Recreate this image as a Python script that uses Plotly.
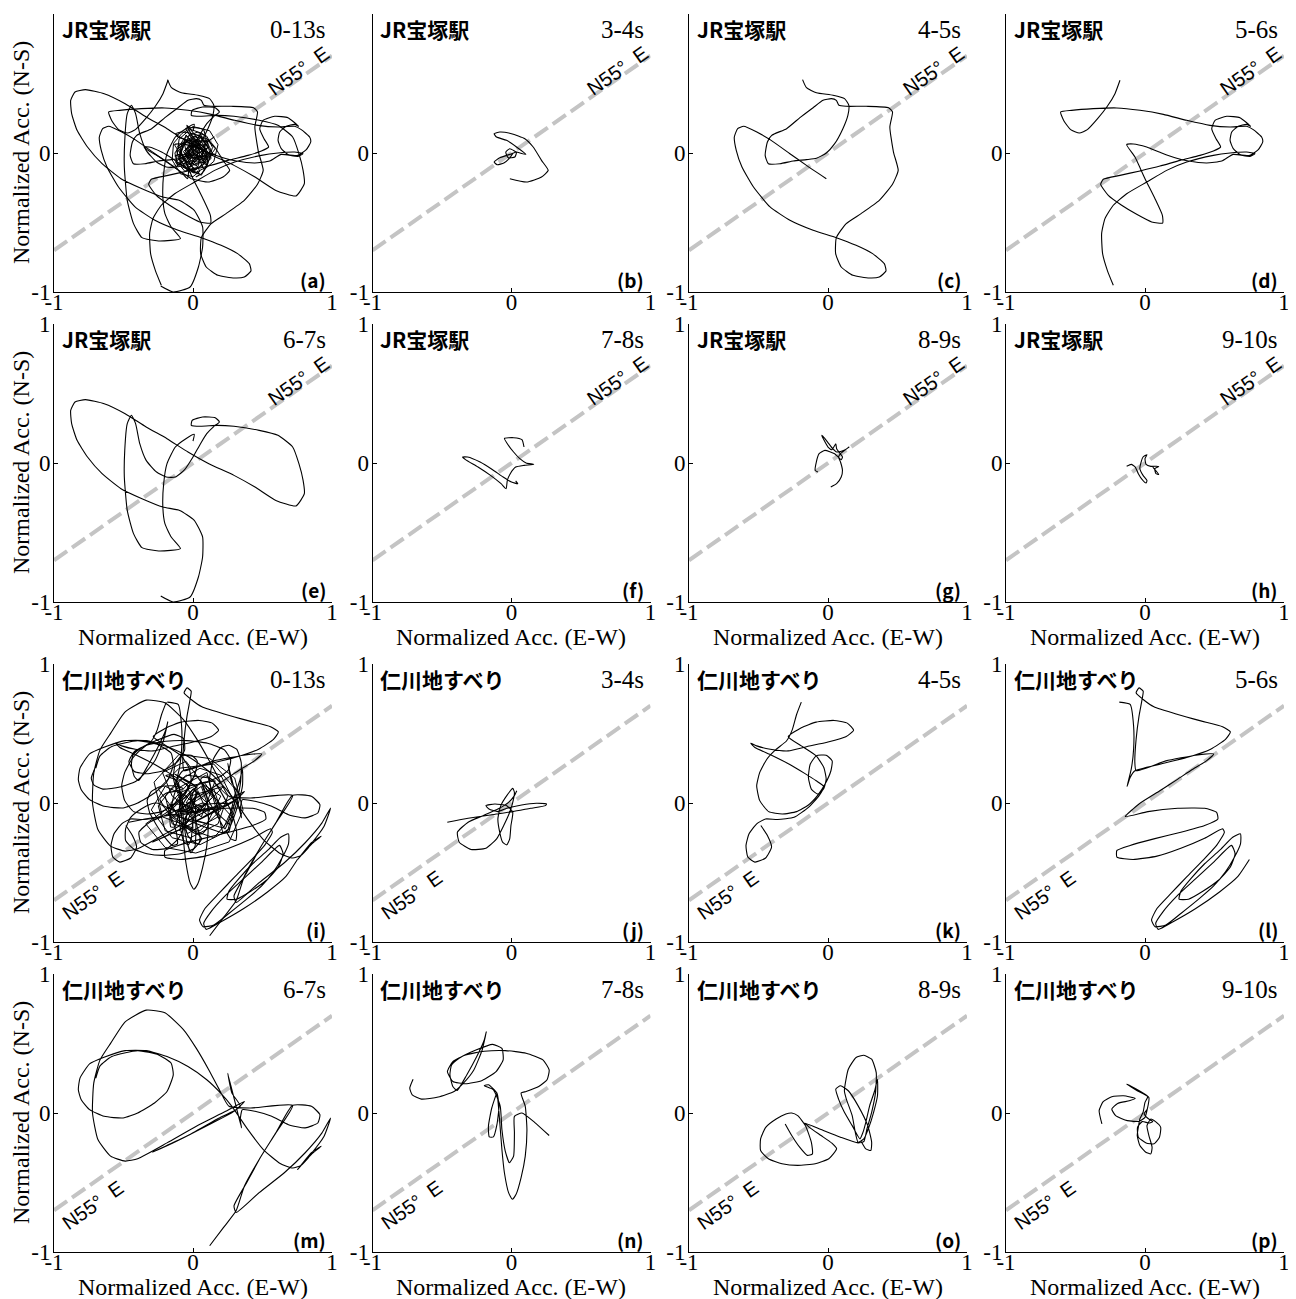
import plotly.graph_objects as go

W, H = 1296, 1299
OFF = 8  # page body margin of the browser

# ---------------- data (normalized acceleration, E-W = x, N-S = y) ----------------
time_labels_top = ["0-13s", "3-4s", "4-5s", "5-6s", "6-7s", "7-8s", "8-9s", "9-10s"]
panel_labels = ["(a)", "(b)", "(c)", "(d)", "(e)", "(f)", "(g)", "(h)",
                "(i)", "(j)", "(k)", "(l)", "(m)", "(n)", "(o)", "(p)"]
station_top = "JR宝塚駅"
station_bottom = "仁川地すべり"
tick_vals = [-1, 0, 1]
tick_text = ["-1", "0", "1"]
azimuth_x = [-1, 1]
azimuth_y = [-0.7, 0.7]

# JR Takarazuka station, small-amplitude part of 0-13 s record (0-3 s, 10-13 s)
a_extra_xy = [(0.0, 0.0), (0.08, 0.05), (0.1, -0.03), (0.02, -0.09), (-0.07, -0.05), (-0.09, 0.04),
              (-0.02, 0.1), (0.06, 0.08), (0.11, 0.0), (0.05, -0.1), (-0.04, -0.12), (-0.1, -0.04),
              (-0.08, 0.07), (0.0, 0.12), (0.09, 0.1), (0.13, 0.02), (0.08, -0.07), (-0.01, -0.06),
              (-0.06, 0.0), (-0.03, 0.06), (0.04, 0.04), (0.05, -0.04), (-0.03, -0.08), (-0.11, -0.1),
              (-0.13, 0.0), (-0.06, 0.11), (0.03, 0.15), (0.1, 0.12), (0.14, 0.04), (0.1, -0.1),
              (0.02, -0.14), (-0.08, -0.1), (-0.12, 0.02), (-0.05, 0.08), (0.02, 0.06), (0.07, -0.02),
              (0.0, -0.04), (-0.04, 0.02), (0.01, 0.09), (0.08, 0.02), (0.03, -0.11), (-0.06, -0.13),
              (-0.12, -0.06), (-0.1, 0.1), (-0.02, 0.17), (0.07, 0.14), (0.12, 0.08), (0.16, 0.03),
              (0.1, -0.05), (0.0, 0.0), (0.05, 0.07), (-0.04, 0.04), (-0.02, -0.03), (0.06, -0.05),
              (0.09, 0.06), (0.0, 0.05), (-0.07, -0.02), (-0.03, -0.1), (0.04, -0.07), (0.03, 0.02),
              (-0.05, 0.13), (-0.09, -0.01), (0.01, -0.02), (0.11, 0.04), (0.06, 0.12), (-0.01, 0.03),
              (-0.1, -0.07), (-0.02, -0.14), (0.07, -0.09), (0.12, -0.01), (0.04, 0.08), (-0.06, 0.06),
              (-0.04, -0.04), (0.02, 0.0), (0.08, -0.12), (0.15, -0.06), (0.18, 0.06), (0.12, 0.16),
              (0.0, 0.19), (-0.08, 0.14), (-0.14, 0.07), (-0.15, -0.05), (-0.09, -0.15), (0.0, -0.17),
              (0.05, -0.13), (0.0, -0.05), (-0.05, 0.03), (0.03, 0.1), (0.07, 0.0), (0.0, -0.08),
              (-0.07, 0.01), (0.0, 0.07), (0.05, 0.01), (0.01, -0.03), (-0.03, 0.08), (0.1, 0.09),
              (0.13, -0.04), (0.02, -0.12), (-0.1, -0.02), (-0.02, 0.14), (0.09, -0.02), (-0.05, -0.07),
              (-0.11, 0.05), (0.04, 0.13), (0.14, 0.0), (0.06, -0.16), (-0.07, -0.09), (0.01, 0.04)]

b_xy = [(-0.012, -0.185), (0.108, -0.209), (0.216, -0.173), (0.264, -0.125), (0.216, -0.053),
        (0.156, 0.043), (0.096, 0.103), (0.0, 0.139), (-0.084, 0.151), (-0.125, 0.139),
        (-0.108, 0.115), (-0.036, 0.091), (0.036, 0.043), (0.103, -0.010), (0.036, 0.007),
        (-0.012, 0.031), (-0.041, 0.007), (-0.024, -0.034), (0.024, -0.029), (0.036, 0.007),
        (-0.012, -0.010), (-0.084, -0.034), (-0.125, -0.065), (-0.103, -0.084), (-0.055, -0.072),
        (-0.017, -0.041), (0.012, 0.0)]

c_xy = [(-0.183, 0.528), (-0.155, 0.470), (-0.083, 0.434), (0.036, 0.415), (0.119, 0.391),
        (0.150, 0.343), (0.143, 0.271), (0.107, 0.175), (0.048, 0.067), (-0.012, 0.0),
        (-0.083, -0.038), (-0.155, -0.048), (-0.250, -0.058), (-0.345, -0.077), (-0.429, -0.077),
        (-0.452, -0.017), (-0.436, 0.079), (-0.405, 0.127), (-0.298, 0.175), (-0.202, 0.254),
        (-0.107, 0.326), (-0.036, 0.379), (0.024, 0.391), (0.060, 0.379), (0.079, 0.343),
        (0.131, 0.336), (0.274, 0.336), (0.436, 0.326), (0.464, 0.295), (0.445, 0.187),
        (0.471, 0.007), (0.505, -0.125), (0.464, -0.225), (0.369, -0.341), (0.238, -0.436),
        (0.131, -0.508), (0.060, -0.609), (0.055, -0.724), (0.095, -0.820), (0.179, -0.880),
        (0.298, -0.899), (0.369, -0.892), (0.417, -0.849), (0.405, -0.796), (0.321, -0.724),
        (0.202, -0.664), (0.060, -0.609), (-0.107, -0.556), (-0.274, -0.484), (-0.417, -0.388),
        (-0.536, -0.245), (-0.619, -0.101), (-0.660, 0.019), (-0.674, 0.115), (-0.650, 0.175),
        (-0.607, 0.192), (-0.512, 0.151), (-0.417, 0.096), (-0.274, -0.005), (-0.155, -0.089),
        (-0.012, -0.185)]

d_xy = [(-0.180, 0.523), (-0.216, 0.427), (-0.271, 0.336), (-0.341, 0.247), (-0.415, 0.168),
        (-0.472, 0.144), (-0.535, 0.168), (-0.583, 0.230), (-0.607, 0.295), (-0.528, 0.307),
        (-0.372, 0.319), (-0.204, 0.324), (-0.036, 0.307), (0.132, 0.278), (0.300, 0.235),
        (0.468, 0.199), (0.612, 0.187), (0.731, 0.192), (0.779, 0.168), (0.839, 0.115),
        (0.847, 0.079), (0.815, 0.024), (0.755, -0.017), (0.683, -0.010), (0.635, 0.031),
        (0.612, 0.091), (0.624, 0.151), (0.671, 0.192), (0.731, 0.206), (0.760, 0.192),
        (0.683, 0.254), (0.588, 0.264), (0.504, 0.235), (0.480, 0.175), (0.511, 0.103),
        (0.544, 0.043), (0.492, 0.014), (0.396, -0.017), (0.252, -0.053), (0.108, -0.094),
        (-0.036, -0.129), (-0.180, -0.161), (-0.300, -0.189), (-0.319, -0.225), (-0.264, -0.305),
        (-0.168, -0.376), (-0.060, -0.441), (0.048, -0.496), (0.127, -0.504), (0.125, -0.448),
        (0.072, -0.329), (0.0, -0.185), (-0.072, -0.029), (-0.132, 0.060), (-0.084, 0.065),
        (0.012, 0.043), (0.120, 0.0), (0.216, -0.034), (0.312, -0.058), (0.444, -0.072),
        (0.552, -0.058), (0.635, -0.010), (0.755, -0.024), (0.791, -0.005), (0.731, 0.007),
        (0.612, 0.0), (0.492, -0.017), (0.300, -0.065), (0.156, -0.125), (0.012, -0.209),
        (-0.132, -0.293), (-0.228, -0.376), (-0.288, -0.472), (-0.312, -0.580), (-0.305, -0.724),
        (-0.271, -0.844), (-0.228, -0.952)]

e_xy = [(-0.232, -0.957), (-0.142, -1.0), (-0.021, -0.964), (0.039, -0.820), (0.069, -0.676),
        (0.069, -0.532), (0.009, -0.412), (-0.096, -0.341), (-0.217, -0.317), (-0.367, -0.257),
        (-0.518, -0.185), (-0.654, -0.077), (-0.759, 0.043), (-0.834, 0.163), (-0.873, 0.283),
        (-0.880, 0.379), (-0.849, 0.439), (-0.774, 0.456), (-0.639, 0.427), (-0.488, 0.355),
        (-0.337, 0.259), (-0.187, 0.175), (-0.036, 0.079), (0.114, -0.005), (0.295, -0.089),
        (0.446, -0.173), (0.596, -0.269), (0.741, -0.309), (0.801, -0.221), (0.792, -0.125),
        (0.762, -0.005), (0.717, 0.115), (0.611, 0.199), (0.476, 0.235), (0.295, 0.264),
        (0.175, 0.271), (0.054, 0.264), (-0.012, 0.271), (-0.006, 0.307), (0.069, 0.331),
        (0.160, 0.326), (0.190, 0.295), (0.151, 0.264), (0.099, 0.211), (0.054, 0.139),
        (0.0, 0.043), (-0.060, -0.048), (-0.127, -0.101), (-0.193, -0.101), (-0.262, -0.065),
        (-0.337, 0.019), (-0.383, 0.139), (-0.413, 0.283), (-0.443, 0.343), (-0.473, 0.283),
        (-0.491, 0.091), (-0.494, -0.101), (-0.473, -0.341), (-0.428, -0.508), (-0.367, -0.609),
        (-0.247, -0.633), (-0.090, -0.616), (-0.157, -0.532), (-0.202, -0.436), (-0.217, -0.317),
        (-0.211, -0.149), (-0.187, -0.005), (-0.127, 0.115), (-0.051, 0.175), (0.009, 0.206),
        (0.0, 0.158)]

f_xy = [(0.090, 0.115), (0.075, 0.168), (0.015, 0.182), (-0.051, 0.177), (-0.030, 0.139),
        (0.015, 0.079), (0.060, 0.031), (0.105, 0.0), (0.160, -0.010), (0.090, -0.017),
        (0.030, -0.029), (-0.009, -0.077), (-0.030, -0.125), (-0.039, -0.185), (-0.075, -0.149),
        (-0.151, -0.089), (-0.241, -0.029), (-0.331, 0.024), (-0.352, 0.043), (-0.316, 0.043),
        (-0.226, 0.007), (-0.136, -0.048), (-0.060, -0.101), (0.0, -0.137), (0.045, -0.149),
        (0.030, -0.129)]

g_xy = [(0.020, -0.173), (0.062, -0.149), (0.095, -0.101), (0.104, -0.053), (0.090, 0.007),
        (0.076, 0.043), (0.090, 0.067), (0.151, 0.115), (0.118, 0.091), (0.062, 0.079),
        (0.034, 0.103), (0.006, 0.139), (-0.022, 0.175), (-0.045, 0.199), (-0.028, 0.163),
        (0.0, 0.115), (0.028, 0.096), (0.056, 0.139), (0.062, 0.103), (0.104, 0.043),
        (0.095, 0.024), (0.048, 0.067), (-0.022, 0.091), (-0.064, 0.067), (-0.084, 0.007),
        (-0.092, -0.053), (-0.073, -0.065)]

h_xy = [(-0.132, -0.024), (-0.099, -0.010), (-0.070, -0.029), (-0.048, -0.077), (-0.020, -0.120),
        (0.008, -0.144), (0.014, -0.125), (-0.014, -0.089), (-0.037, -0.041), (-0.028, 0.007),
        (-0.014, 0.043), (0.014, 0.060), (0.0, 0.031), (0.008, -0.010), (0.042, -0.024),
        (0.099, -0.024), (0.070, -0.041), (0.079, -0.077), (0.099, -0.082), (0.056, -0.029)]

# Nigawa landslide, part of 0-13 s record outside the 1-s windows
i_extra_xy = [(0.0, 0.0), (0.15, 0.1), (0.2, -0.05), (0.05, -0.2), (-0.15, -0.15), (-0.2, 0.05),
              (-0.05, 0.2), (0.12, 0.18), (0.25, 0.05), (0.18, -0.15), (-0.02, -0.25), (-0.2, -0.2),
              (-0.25, -0.02), (-0.12, 0.15), (0.05, 0.25), (0.2, 0.2), (0.3, 0.0), (0.22, -0.18),
              (0.0, -0.12), (-0.1, 0.0), (0.0, 0.1), (0.1, 0.0), (0.02, -0.08), (-0.15, 0.05),
              (-0.22, 0.22), (-0.05, 0.3), (0.1, 0.1), (0.28, -0.1), (0.15, -0.25), (-0.05, -0.18),
              (-0.18, -0.08), (-0.08, 0.08), (0.08, 0.15), (0.2, -0.02), (0.05, -0.05), (-0.05, 0.05),
              (-0.2, 0.12), (-0.3, -0.05), (-0.15, -0.25), (0.05, -0.3), (0.25, -0.2), (0.32, 0.08),
              (0.15, 0.28), (-0.1, 0.25), (-0.25, 0.1), (-0.1, -0.1), (0.1, -0.15), (0.2, 0.05),
              (0.05, 0.15), (-0.05, 0.0), (0.0, 0.0), (0.12, -0.06), (0.06, 0.12), (-0.08, 0.02),
              (-0.02, -0.1), (0.14, 0.04), (0.02, 0.2), (-0.16, 0.0), (-0.04, -0.22), (0.18, -0.1),
              (0.1, 0.22), (-0.12, 0.1), (-0.06, -0.06), (0.08, -0.02), (0.04, 0.08), (-0.1, -0.2),
              (0.22, 0.12), (-0.02, 0.05), (0.0, -0.18), (-0.22, -0.1), (-0.28, 0.15), (-0.1, 0.35),
              (0.12, 0.32), (0.3, 0.18), (0.36, -0.05), (0.26, -0.28), (0.02, -0.36), (-0.2, -0.32),
              (-0.34, -0.15), (-0.1, 0.02), (0.06, -0.1), (0.16, 0.16), (-0.04, 0.12), (0.0, 0.0)]

j_xy = [(-0.462, -0.138), (-0.312, -0.110), (-0.141, -0.084), (0.009, -0.062), (0.137, -0.038),
        (0.244, -0.019), (0.252, -0.007), (0.179, -0.002), (0.073, -0.014), (-0.034, -0.038),
        (-0.098, -0.062), (-0.162, -0.043), (-0.184, -0.019), (-0.120, -0.007), (-0.034, -0.019),
        (0.009, -0.067), (-0.004, -0.162), (-0.013, -0.258), (-0.034, -0.301), (-0.064, -0.282),
        (-0.085, -0.210), (-0.098, -0.115), (-0.077, -0.019), (-0.034, 0.053), (0.009, 0.105),
        (0.021, 0.076), (0.009, 0.005), (-0.013, -0.067), (-0.056, -0.162), (-0.107, -0.258),
        (-0.184, -0.325), (-0.291, -0.334), (-0.376, -0.282), (-0.389, -0.210), (-0.312, -0.138),
        (-0.205, -0.091), (-0.098, -0.043), (-0.021, 0.005), (0.021, 0.053), (0.038, 0.088)]

k_xy = [(-0.192, 0.726), (-0.226, 0.637), (-0.256, 0.530), (-0.299, 0.446), (-0.372, 0.387),
        (-0.440, 0.315), (-0.491, 0.220), (-0.513, 0.124), (-0.491, 0.017), (-0.427, -0.062),
        (-0.329, -0.079), (-0.226, -0.062), (-0.141, -0.014), (-0.073, 0.057), (-0.021, 0.136),
        (0.021, 0.232), (0.030, 0.303), (-0.013, 0.344), (-0.085, 0.339), (-0.128, 0.279),
        (-0.141, 0.184), (-0.120, 0.100), (-0.073, 0.064), (-0.030, 0.105), (-0.013, 0.172),
        (-0.030, 0.255), (-0.085, 0.339), (-0.192, 0.411), (-0.286, 0.477), (-0.192, 0.542),
        (-0.085, 0.582), (0.043, 0.594), (0.141, 0.573), (0.184, 0.523), (0.128, 0.477),
        (0.0, 0.439), (-0.150, 0.406), (-0.286, 0.375), (-0.415, 0.387), (-0.513, 0.411),
        (-0.556, 0.430), (-0.526, 0.399), (-0.406, 0.344), (-0.278, 0.279), (-0.171, 0.215),
        (-0.085, 0.160), (-0.030, 0.119), (-0.064, 0.053), (-0.141, -0.031), (-0.244, -0.103),
        (-0.363, -0.119), (-0.449, -0.115), (-0.513, -0.150), (-0.568, -0.222), (-0.590, -0.305),
        (-0.577, -0.389), (-0.526, -0.425), (-0.449, -0.396), (-0.406, -0.317), (-0.436, -0.234),
        (-0.483, -0.162)]

l_xy = [(-0.185, 0.726), (-0.107, 0.709), (-0.082, 0.554), (-0.082, 0.387), (-0.099, 0.243),
        (-0.129, 0.119), (-0.107, 0.184), (-0.073, 0.232), (0.107, 0.279), (0.300, 0.327),
        (0.472, 0.387), (0.579, 0.458), (0.614, 0.511), (0.558, 0.549), (0.408, 0.589),
        (0.236, 0.637), (0.064, 0.692), (-0.013, 0.745), (-0.064, 0.792), (-0.043, 0.828),
        (-0.013, 0.804), (-0.021, 0.745), (-0.043, 0.625), (-0.064, 0.458), (-0.073, 0.291),
        (-0.064, 0.232), (0.150, 0.303), (0.365, 0.344), (0.494, 0.353), (0.442, 0.303),
        (0.343, 0.243), (0.236, 0.172), (0.107, 0.088), (-0.043, -0.007), (-0.142, -0.098),
        (0.021, -0.062), (0.236, -0.038), (0.429, -0.038), (0.515, -0.067), (0.524, -0.115),
        (0.429, -0.162), (0.258, -0.210), (0.064, -0.258), (-0.107, -0.305), (-0.202, -0.341),
        (-0.202, -0.389), (-0.086, -0.406), (0.086, -0.382), (0.258, -0.325), (0.429, -0.253),
        (0.558, -0.186), (0.571, -0.210), (0.515, -0.305), (0.416, -0.413), (0.300, -0.532),
        (0.185, -0.652), (0.086, -0.759), (0.047, -0.842), (0.073, -0.890), (0.150, -0.878),
        (0.258, -0.795), (0.386, -0.692), (0.494, -0.597), (0.579, -0.496), (0.644, -0.389),
        (0.687, -0.294), (0.687, -0.222), (0.631, -0.246), (0.536, -0.341), (0.429, -0.437),
        (0.330, -0.544), (0.258, -0.635), (0.245, -0.692), (0.313, -0.692), (0.416, -0.635),
        (0.528, -0.556), (0.614, -0.461), (0.648, -0.365), (0.622, -0.305), (0.494, -0.425),
        (0.365, -0.544), (0.236, -0.663), (0.129, -0.783), (0.077, -0.866), (0.094, -0.909),
        (0.202, -0.854), (0.365, -0.759), (0.536, -0.640), (0.665, -0.532), (0.751, -0.406)]

m_xy = [(-0.699, 0.251), (-0.669, 0.339), (-0.584, 0.406), (-0.398, 0.449), (-0.247, 0.418),
        (-0.157, 0.358), (-0.142, 0.274), (-0.187, 0.155), (-0.277, 0.072), (-0.398, 0.0),
        (-0.503, -0.036), (-0.639, -0.024), (-0.744, 0.024), (-0.804, 0.095), (-0.825, 0.167),
        (-0.813, 0.251), (-0.744, 0.353), (-0.645, 0.399), (-0.488, 0.449), (-0.337, 0.449),
        (-0.187, 0.406), (-0.036, 0.334), (0.099, 0.239), (0.199, 0.143), (0.280, 0.048),
        (0.386, -0.107), (0.506, -0.263), (0.627, -0.363), (0.717, -0.396), (0.777, -0.377),
        (0.852, -0.298), (0.922, -0.239), (0.852, -0.286), (0.753, -0.406), (0.837, -0.310),
        (0.943, -0.167), (0.99, -0.036), (0.928, -0.143), (0.807, -0.286), (0.657, -0.430),
        (0.476, -0.573), (0.310, -0.716), (0.295, -0.668), (0.386, -0.501), (0.491, -0.310),
        (0.596, -0.143), (0.717, 0.055), (0.852, 0.048), (0.913, -0.012), (0.898, -0.072),
        (0.807, -0.107), (0.687, -0.084), (0.566, -0.024), (0.446, 0.012), (0.355, 0.024),
        (0.340, -0.048), (0.349, -0.107), (0.310, 0.048), (0.250, 0.286), (0.280, 0.143),
        (0.340, 0.048), (0.175, -0.043), (-0.036, -0.162), (-0.247, -0.263), (-0.292, -0.282),
        (-0.096, -0.191), (0.114, -0.084), (0.295, 0.012), (0.370, 0.084), (0.235, 0.012),
        (0.024, -0.095), (-0.187, -0.215), (-0.398, -0.329), (-0.488, -0.346), (-0.593, -0.310),
        (-0.684, -0.191), (-0.723, 0.0), (-0.714, 0.215), (-0.669, 0.382), (-0.593, 0.501),
        (-0.488, 0.656), (-0.337, 0.740), (-0.202, 0.721), (-0.066, 0.597), (0.024, 0.465),
        (0.114, 0.310), (0.190, 0.167), (0.259, 0.048), (0.416, 0.036), (0.717, 0.055),
        (0.596, -0.143), (0.476, -0.334), (0.370, -0.525), (0.310, -0.704), (0.220, -0.823),
        (0.120, -0.955)]

n_xy = [(-0.708, 0.243), (-0.732, 0.179), (-0.714, 0.131), (-0.648, 0.100), (-0.527, 0.115),
        (-0.413, 0.155), (-0.346, 0.215), (-0.271, 0.310), (-0.211, 0.453), (-0.181, 0.585),
        (-0.196, 0.525), (-0.250, 0.406), (-0.322, 0.274), (-0.392, 0.162), (-0.422, 0.191),
        (-0.443, 0.274), (-0.431, 0.346), (-0.377, 0.394), (-0.256, 0.453), (-0.136, 0.494),
        (-0.069, 0.465), (-0.060, 0.382), (-0.111, 0.298), (-0.211, 0.234), (-0.331, 0.210),
        (-0.422, 0.227), (-0.461, 0.298), (-0.422, 0.370), (-0.331, 0.418), (-0.196, 0.444),
        (-0.045, 0.449), (0.105, 0.430), (0.226, 0.382), (0.271, 0.310), (0.256, 0.239),
        (0.196, 0.191), (0.105, 0.155), (0.069, 0.143), (0.099, 0.048), (0.111, -0.119),
        (0.099, -0.310), (0.069, -0.465), (0.033, -0.585), (0.006, -0.621), (-0.021, -0.573),
        (-0.051, -0.430), (-0.069, -0.263), (-0.084, -0.072), (-0.096, 0.072), (-0.105, 0.143),
        (-0.142, 0.036), (-0.166, -0.095), (-0.160, -0.172), (-0.130, -0.172), (-0.105, -0.084),
        (-0.090, 0.048), (-0.105, 0.143), (-0.166, 0.203), (-0.196, 0.196), (-0.130, 0.167),
        (-0.081, 0.048), (-0.069, -0.119), (-0.045, -0.274), (-0.015, -0.358), (0.015, -0.310),
        (0.021, -0.143), (0.021, -0.024), (0.075, 0.0), (0.166, -0.067), (0.271, -0.162)]

o_xy = [(-0.308, -0.079), (-0.261, -0.162), (-0.204, -0.246), (-0.148, -0.305), (-0.112, -0.294),
        (-0.120, -0.210), (-0.162, -0.091), (-0.218, -0.019), (-0.261, 0.0), (-0.303, -0.007),
        (-0.373, -0.043), (-0.448, -0.103), (-0.485, -0.186), (-0.485, -0.270), (-0.429, -0.329),
        (-0.331, -0.365), (-0.218, -0.377), (-0.092, -0.365), (0.006, -0.329), (0.062, -0.258),
        (0.028, -0.217), (-0.050, -0.162), (-0.134, -0.103), (-0.168, -0.072), (-0.050, -0.119),
        (0.090, -0.174), (0.216, -0.215), (0.258, -0.205), (0.280, -0.115), (0.314, 0.005),
        (0.342, 0.148), (0.347, 0.291), (0.314, 0.387), (0.258, 0.415), (0.202, 0.399),
        (0.146, 0.315), (0.118, 0.160), (0.132, 0.100), (0.174, -0.019), (0.196, -0.138),
        (0.216, -0.210), (0.258, -0.186), (0.294, -0.103), (0.328, 0.005), (0.356, 0.124),
        (0.356, 0.243), (0.336, 0.160), (0.300, 0.053), (0.272, -0.067), (0.252, -0.138),
        (0.230, -0.186), (0.174, -0.091), (0.118, 0.005), (0.076, 0.100), (0.056, 0.172),
        (0.090, 0.196), (0.146, 0.160), (0.216, 0.053), (0.286, -0.091), (0.314, -0.210),
        (0.308, -0.270), (0.272, -0.258), (0.235, -0.198)]

p_xy = [(-0.310, -0.079), (-0.330, 0.017), (-0.301, 0.081), (-0.239, 0.117), (-0.155, 0.124),
        (-0.070, 0.105), (-0.113, 0.088), (-0.197, 0.069), (-0.239, 0.029), (-0.211, -0.019),
        (-0.127, -0.055), (-0.042, -0.060), (0.0, -0.031), (0.014, 0.017), (0.028, 0.112),
        (-0.056, 0.160), (-0.132, 0.208), (-0.070, 0.177), (0.020, 0.119), (0.0, 0.076),
        (-0.014, 0.005), (-0.037, -0.043), (-0.048, -0.103), (-0.056, -0.162), (-0.037, -0.234),
        (0.006, -0.282), (0.042, -0.294), (0.051, -0.246), (0.028, -0.162), (0.014, -0.091),
        (0.042, -0.043), (0.076, -0.062), (0.113, -0.103), (0.104, -0.174), (0.065, -0.222),
        (0.008, -0.215), (-0.048, -0.174), (-0.054, -0.103), (-0.020, -0.062), (0.028, -0.072),
        (0.056, -0.062), (0.020, -0.038), (-0.006, -0.007), (0.014, 0.024)]

top_windows = [b_xy, c_xy, d_xy, e_xy, f_xy, g_xy, h_xy]
bottom_windows = [j_xy, k_xy, l_xy, m_xy, n_xy, o_xy, p_xy]


def joined(windows):
    pts = []
    for w in windows:
        if pts:
            pts.append((None, None))
        pts.extend(w)
    return pts


# per panel: (smooth windowed traces, jagged extra part or None)
panel_data = ([(joined(top_windows), a_extra_xy)] + [(w, None) for w in top_windows] +
              [(joined(bottom_windows), i_extra_xy)] + [(w, None) for w in bottom_windows])

# ---------------- layout ----------------
col_px = [(54, 332), (372.5, 650.5), (689, 967), (1006, 1284)]
row_px = [(14, 292), (324, 602), (664, 942), (974, 1252)]


def px_x(p):
    return (p - OFF) / W


def px_y(p):
    return 1 - (p - OFF) / H


SERIF = "Liberation Serif"
GOTHIC = "Noto Sans CJK JP"
SANS = "Liberation Sans"

fig = go.Figure()
layout = dict(width=W, height=H, margin=dict(l=0, r=0, t=0, b=0, pad=0), autosize=False,
              paper_bgcolor="white", plot_bgcolor="white", showlegend=False)
annotations = []

for k in range(16):
    r, c = divmod(k, 4)
    s = "" if k == 0 else str(k + 1)
    x0, x1 = col_px[c]
    y0, y1 = row_px[r]
    axis_common = dict(range=[-1, 1], showgrid=False, zeroline=False, showline=True,
                       linecolor="black", linewidth=1, ticks="inside", ticklen=4,
                       tickwidth=1, tickcolor="black", tickvals=tick_vals, ticktext=tick_text,
                       tickfont=dict(family=SERIF, size=23, color="black"), fixedrange=True,
                       automargin=False)
    layout["xaxis" + s] = dict(axis_common, domain=[px_x(x0), px_x(x1)], anchor="y" + s,
                               ticklabelstandoff=-11)
    layout["yaxis" + s] = dict(axis_common, domain=[px_y(y1), px_y(y0)], anchor="x" + s,
                               ticklabelstandoff=-2)

    fig.add_trace(go.Scatter(x=azimuth_x, y=azimuth_y, mode="lines", xaxis="x" + s, yaxis="y" + s,
                             line=dict(color="#c4c4c4", width=4, dash="16px,6px"),
                             hoverinfo="skip"))
    main_pts, extra_pts = panel_data[k]
    if extra_pts is not None:
        fig.add_trace(go.Scatter(x=[p[0] for p in extra_pts], y=[p[1] for p in extra_pts],
                                 mode="lines", xaxis="x" + s, yaxis="y" + s,
                                 line=dict(color="black", width=1), hoverinfo="skip"))
    fig.add_trace(go.Scatter(x=[p[0] for p in main_pts], y=[p[1] for p in main_pts], mode="lines",
                             xaxis="x" + s, yaxis="y" + s, connectgaps=False,
                             line=dict(color="black", width=1.1, shape="spline", smoothing=0.5),
                             hoverinfo="skip"))

    station = station_top if r < 2 else station_bottom
    tlabel = time_labels_top[(r % 2) * 4 + c]
    annotations.append(dict(text="<b>" + station + "</b>", xref="x" + s + " domain",
                            yref="y" + s + " domain", x=0.02, y=0.945, xanchor="left",
                            yanchor="middle", showarrow=False,
                            font=dict(family=GOTHIC, size=21, color="black")))
    annotations.append(dict(text=tlabel, xref="x" + s + " domain", yref="y" + s + " domain",
                            x=0.985, y=0.945, xanchor="right", yanchor="middle", showarrow=False,
                            font=dict(family=SERIF, size=25, color="black")))
    annotations.append(dict(text="<b>" + panel_labels[k] + "</b>", xref="x" + s + " domain",
                            yref="y" + s + " domain", x=0.985, y=0.045, xanchor="right",
                            yanchor="middle", showarrow=False,
                            font=dict(family=GOTHIC, size=19, color="black")))
    if r < 2:
        nx, ny = 0.76, 0.59
    else:
        nx, ny = -0.72, -0.66
    annotations.append(dict(text="N55°\u00a0\u00a0E", xref="x" + s, yref="y" + s, x=nx, y=ny,
                            xanchor="center", yanchor="middle", showarrow=False, textangle=-35,
                            font=dict(family=SANS, size=20, color="black")))

# axis titles
for r in range(4):
    y0, y1 = row_px[r]
    annotations.append(dict(text="Normalized Acc. (N-S)", xref="paper", yref="paper",
                            x=px_x(21), y=px_y((y0 + y1) / 2), xanchor="center", yanchor="middle",
                            textangle=-90, showarrow=False,
                            font=dict(family=SERIF, size=24, color="black")))
for r, ypx in [(1, 637), (3, 1287)]:
    for c in range(4):
        x0, x1 = col_px[c]
        annotations.append(dict(text="Normalized Acc. (E-W)", xref="paper", yref="paper",
                                x=px_x((x0 + x1) / 2), y=px_y(ypx), xanchor="center",
                                yanchor="middle", showarrow=False,
                                font=dict(family=SERIF, size=24, color="black")))

layout["annotations"] = annotations
fig.update_layout(**layout)
fig.write_html("out.html", config={"displayModeBar": False})
